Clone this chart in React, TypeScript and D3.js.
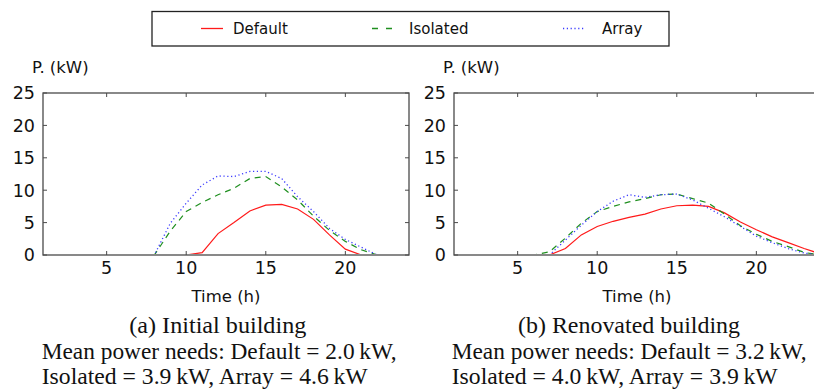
import React from "react";
import * as d3 from "d3";

const hours = d3.range(1, 25);
const xTicks = [5, 10, 15, 20];
const yTicks = [0, 5, 10, 15, 20, 25];

const defaultA = [0,0,0,0,0,0,0,0,0,0,0.36,3.3,5.0,6.8,7.7,7.8,7.1,5.5,3.1,0.9,0,0,0,0];
const isolatedA = [0,0,0,0,0,0,0,0,3.7,6.7,8.1,9.3,10.3,11.8,12.1,10.5,8.5,6.0,3.8,2.1,0.8,0,0,0];
const arrayA = [0,0,0,0,0,0,0,0,4.9,8.0,10.8,12.2,12.1,12.9,12.9,11.8,9.0,6.7,4.1,2.4,1.2,0,0,0];

const defaultB = [0,0,0,0,0,0,0,1.0,3.1,4.4,5.2,5.8,6.3,7.1,7.6,7.7,7.5,6.5,5.1,3.9,2.8,1.9,1.0,0.2];
const isolatedB = [0,0,0,0,0,0,0.5,2.6,4.9,6.7,7.5,8.2,8.7,9.3,9.4,8.7,8.0,6.3,4.5,3.2,2.1,1.3,0.4,0];
const arrayB = [0,0,0,0,0,0,0,2.3,4.6,6.7,8.3,9.3,8.9,9.3,9.4,8.5,7.2,5.9,4.4,2.9,1.9,1.0,0.3,0];

const seriesNames = ["Default", "Isolated", "Array"];
const seriesColors = ["#ff1a1a", "#1f8f1f", "#3a3aff"];
const seriesDash = [null, "6,5", "1.2,2.6"];

const captionA = ["(a) Initial building", "Mean power needs: Default = 2.0\u2009kW,", "Isolated = 3.9\u2009kW, Array = 4.6\u2009kW"];
const captionB = ["(b) Renovated building", "Mean power needs: Default = 3.2\u2009kW,", "Isolated = 4.0\u2009kW, Array = 3.9\u2009kW"];

const SANS = "DejaVu Sans, sans-serif";
const SERIF = "Liberation Serif, Times New Roman, serif";

function Panel({ id, left, data, caption, capStart, capWidths }) {
  const top = 93, height = 162, width = 366;
  const x = d3.scaleLinear().domain([1, 24]).range([left, left + width]);
  const y = d3.scaleLinear().domain([0, 25]).range([top + height, top]);
  const line = d3.line<number>().x((_, i) => x(hours[i])).y((d) => y(d));
  const frame = "#4a4a4a";
  return (
    <g>
      <defs>
        <clipPath id={id}>
          <rect x={left} y={top} width={width} height={height - 0.9} />
        </clipPath>
      </defs>
      <g clipPath={`url(#${id})`}>
        {data.map((s, i) => (
          <path key={i} d={line(s) || ""} fill="none" stroke={seriesColors[i]}
            strokeWidth={i === 2 ? 1.3 : 1.2} strokeDasharray={seriesDash[i] || undefined} />
        ))}
      </g>
      <rect x={left} y={top} width={width} height={height} fill="none" stroke={frame} strokeWidth={1.3} />
      {xTicks.map((t) => (
        <g key={"x" + t}>
          <line x1={x(t)} x2={x(t)} y1={top + height} y2={top + height - 4} stroke={frame} />
          <line x1={x(t)} x2={x(t)} y1={top} y2={top + 4} stroke={frame} />
          <text x={x(t)} y={273.5} textAnchor="middle" fontFamily={SANS} fontSize={17.5} fill="#111">{t}</text>
        </g>
      ))}
      {yTicks.map((t) => (
        <g key={"y" + t}>
          <line x1={left} x2={left + 4} y1={y(t)} y2={y(t)} stroke={frame} />
          <line x1={left + width} x2={left + width - 4} y1={y(t)} y2={y(t)} stroke={frame} />
          <text x={left - 8} y={y(t) + 6.3} textAnchor="end" fontFamily={SANS} fontSize={17.5} fill="#111">{t}</text>
        </g>
      ))}
      <text x={left - 11} y={73} fontFamily={SANS} fontSize={16.5} fill="#111">P. (kW)</text>
      <text x={left + width / 2} y={302} textAnchor="middle" fontFamily={SANS} fontSize={16.5} fill="#111">Time (h)</text>
      {caption.map((c, i) => (
        <text key={i} x={capStart[i]} y={333 + i * 25.5} fontFamily={SERIF} fontSize={23} fill="#111"
          textLength={capWidths[i]} lengthAdjust="spacingAndGlyphs">{c}</text>
      ))}
    </g>
  );
}

export default function App() {
  const legendX = [201, 372, 563];
  const legendTextX = [233, 409, 602];
  return (
    <div style={{ position: "absolute", left: 0, top: 0 }}>
      <svg width={814} height={389} style={{ display: "block", background: "#fff" }}>
        <rect x={0} y={0} width={814} height={389} fill="#fff" />
        <rect x={152} y={11.5} width={517} height={34.5} fill="#fff" stroke="#222" strokeWidth={1.3} />
        {seriesNames.map((n, i) => (
          <g key={n}>
            <line x1={legendX[i]} x2={legendX[i] + (i === 1 ? 20 : 22)} y1={28.5} y2={28.5}
              stroke={seriesColors[i]} strokeWidth={1.3} strokeDasharray={i === 1 ? "6,8" : seriesDash[i] || undefined} />
            <text x={legendTextX[i]} y={33.5} fontFamily={SANS} fontSize={15} fill="#111">{n}</text>
          </g>
        ))}
        <Panel id="clipA" left={43} data={[defaultA, isolatedA, arrayA]} caption={captionA}
          capStart={[129.3, 41.7, 41.7]} capWidths={[177, 355, 326]} />
        <Panel id="clipB" left={454} data={[defaultB, isolatedB, arrayB]} caption={captionB}
          capStart={[518, 451.7, 451.7]} capWidths={[222, 355, 326]} />
      </svg>
    </div>
  );
}
